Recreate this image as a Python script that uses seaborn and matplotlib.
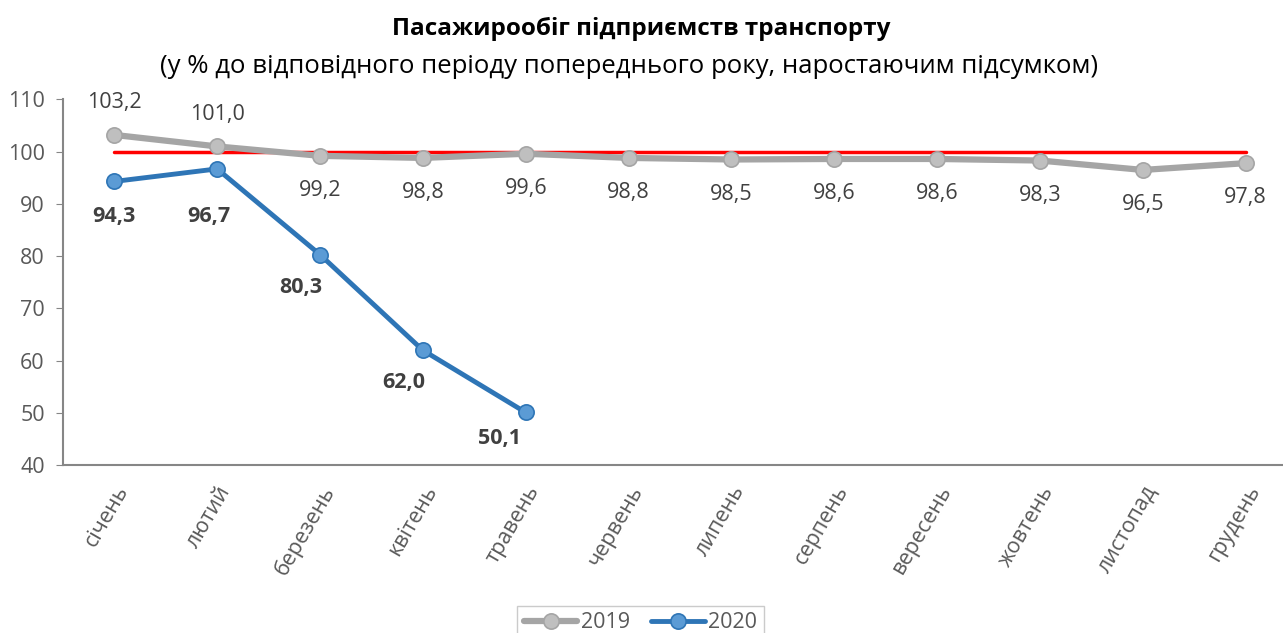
import pandas as pd
import seaborn as sns
import matplotlib.pyplot as plt

# дані
months = ['січень', 'лютий', 'березень', 'квітень', 'травень', 'червень',
          'липень', 'серпень', 'вересень', 'жовтень', 'листопад', 'грудень']
v2019 = [103.2, 101.0, 99.2, 98.8, 99.6, 98.8, 98.5, 98.6, 98.6, 98.3, 96.5, 97.8]
v2020 = [94.3, 96.7, 80.3, 62.0, 50.1]
base = [100] * 12

df19 = pd.DataFrame({'x': range(12), 'y': v2019})
df20 = pd.DataFrame({'x': range(len(v2020)), 'y': v2020})
dfb = pd.DataFrame({'x': range(12), 'y': base})

sns.set_style("white")
plt.rcParams['font.family'] = ['Open Sans', 'DejaVu Sans']
txt = '#595959'

fig = plt.figure(figsize=(12.83, 6.33), dpi=100)
ax = fig.add_axes([0.049, 0.265, 0.962, 0.578])

sns.lineplot(data=dfb, x='x', y='y', color='#FF0000', linewidth=2.5, ax=ax, zorder=2)
sns.lineplot(data=df19, x='x', y='y', color='#A5A5A5', linewidth=4.5, marker='o',
             markersize=11, markerfacecolor='#BFBFBF', markeredgecolor='#A5A5A5',
             markeredgewidth=1.2, ax=ax, zorder=3, label='2019')
sns.lineplot(data=df20, x='x', y='y', color='#2E75B6', linewidth=3.5, marker='o',
             markersize=11, markerfacecolor='#5B9BD5', markeredgecolor='#2E75B6',
             markeredgewidth=1.2, ax=ax, zorder=4, label='2020')

# підписи значень
for i, v in enumerate(v2019):
    dy = 23 if i < 2 else -25
    ax.annotate(f"{v:.1f}".replace('.', ','), (i, v), xytext=(0, dy),
                textcoords='offset points', ha='center', va='center',
                fontsize=15.5, color='#404040')
off20 = [(0, -25), (-6, -34), (-14, -24), (-14, -23), (-19, -19)]
for i, v in enumerate(v2020):
    ax.annotate(f"{v:.1f}".replace('.', ','), (i, v), xytext=off20[i],
                textcoords='offset points', ha='center', va='center',
                fontsize=15.5, color='#404040', fontweight='bold')

ax.set_xlim(-0.5, 11.5)
ax.set_ylim(40, 110)
ax.set_yticks(range(40, 111, 10))
ax.set_xticks(range(12))
ax.set_xticklabels(months, rotation=60, ha='right', rotation_mode='anchor',
                   fontsize=15.5, color=txt)
ax.tick_params(axis='y', labelsize=15.5, labelcolor=txt, length=5, color='#868686',
               left=True, direction='out', pad=8)
ax.tick_params(axis='x', length=0, pad=12)
ax.set_xlabel('')
ax.set_ylabel('')
for s in ['top', 'right']:
    ax.spines[s].set_visible(False)
for s in ['left', 'bottom']:
    ax.spines[s].set_color('#868686')
    ax.spines[s].set_linewidth(1.5)

# заголовок
fig.text(0.5, 0.955, 'Пасажирообіг підприємств транспорту', ha='center', va='center',
         fontsize=17.5, fontweight='bold', color='#000000')
fig.text(0.49, 0.895, '(у % до відповідного періоду попереднього року, наростаючим підсумком)',
         ha='center', va='center', fontsize=18.5, color='#000000')

ax.legend(loc='upper center', bbox_to_anchor=(0.468, -0.355), ncol=2, fontsize=15.5,
          frameon=True, fancybox=False, edgecolor='#BFBFBF', handlelength=2.5,
          handletextpad=0.15, columnspacing=1.0, labelcolor=txt, borderpad=0.3)

plt.savefig('out.png', dpi=100)
